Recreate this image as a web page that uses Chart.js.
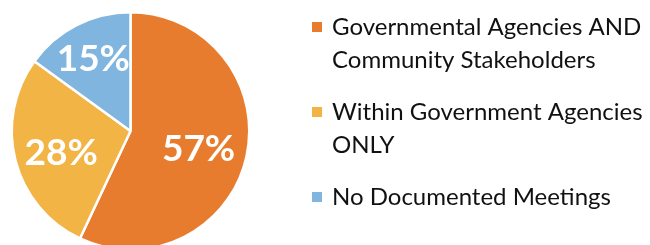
<!DOCTYPE html>
<html>
<head>
<meta charset="utf-8">
<script src="https://cdn.jsdelivr.net/npm/chart.js@4/dist/chart.umd.min.js"></script>
<style>
  html, body { margin: 0; padding: 0; background: #ffffff; }
  #wrap { width: 650px; height: 245px; overflow: hidden; position: relative; }
  canvas { display: block; }
</style>
</head>
<body>
<div id="wrap"><canvas id="c" width="650" height="262"></canvas></div>
<script>
// ---- data ----
const categories = [
  ["Governmental Agencies AND", "Community Stakeholders"],
  ["Within Government Agencies", "ONLY"],
  ["No Documented Meetings"]
];
const shares = [57, 28, 15];
const sliceLabels = ["57%", "28%", "15%"];
const colors = ["#E87C2E", "#F2B445", "#80B5DF"];

// ---- percent labels on slices ----
const sliceLabelPlugin = {
  id: 'sliceLabels',
  afterDatasetsDraw(chart, args, opts) {
    const ctx = chart.ctx;
    const meta = chart.getDatasetMeta(0);
    ctx.save();
    ctx.fillStyle = '#ffffff';
    ctx.font = 'bold 37px Lato';
    ctx.textAlign = 'center';
    ctx.textBaseline = 'middle';
    meta.data.forEach((arc, i) => {
      const p = arc.getProps(['x', 'y', 'startAngle', 'endAngle', 'outerRadius'], true);
      const mid = (p.startAngle + p.endAngle) / 2 + (opts.angleShift[i] || 0);
      const r = p.outerRadius * opts.radiusFrac[i];
      ctx.fillText(sliceLabels[i], p.x + Math.cos(mid) * r, p.y + Math.sin(mid) * r + 1);
    });
    ctx.restore();
  }
};

// ---- legend on the right ----
const sideLegendPlugin = {
  id: 'sideLegend',
  afterDraw(chart, args, opts) {
    const ctx = chart.ctx;
    ctx.save();
    ctx.font = opts.font;
    ctx.textAlign = 'left';
    ctx.textBaseline = 'alphabetic';
    let y = opts.top;
    categories.forEach((lines, i) => {
      ctx.fillStyle = colors[i];
      ctx.fillRect(opts.boxX, y - 13, 10, 10);
      ctx.fillStyle = '#111111';
      lines.forEach((line, j) => {
        ctx.fillText(line, opts.textX, y + j * opts.lineHeight);
      });
      y += (lines.length - 1) * opts.lineHeight + opts.groupGap;
    });
    ctx.restore();
  }
};

new Chart(document.getElementById('c'), {
  type: 'pie',
  data: {
    labels: categories,
    datasets: [{
      data: shares,
      backgroundColor: colors,
      borderColor: '#ffffff',
      borderWidth: 2.5
    }]
  },
  options: {
    responsive: false,
    animation: false,
    devicePixelRatio: 1,
    layout: { padding: { left: 10, right: 399, top: 11, bottom: 11 } },
    plugins: {
      legend: { display: false },
      tooltip: { enabled: false },
      sliceLabels: { radiusFrac: [0.59, 0.61, 0.69], angleShift: [0.02, -0.04, 0] },
      sideLegend: { font: '24px Lato', boxX: 312, textX: 332, top: 35, lineHeight: 33, groupGap: 52 }
    }
  },
  plugins: [sliceLabelPlugin, sideLegendPlugin]
});
</script>
</body>
</html>
